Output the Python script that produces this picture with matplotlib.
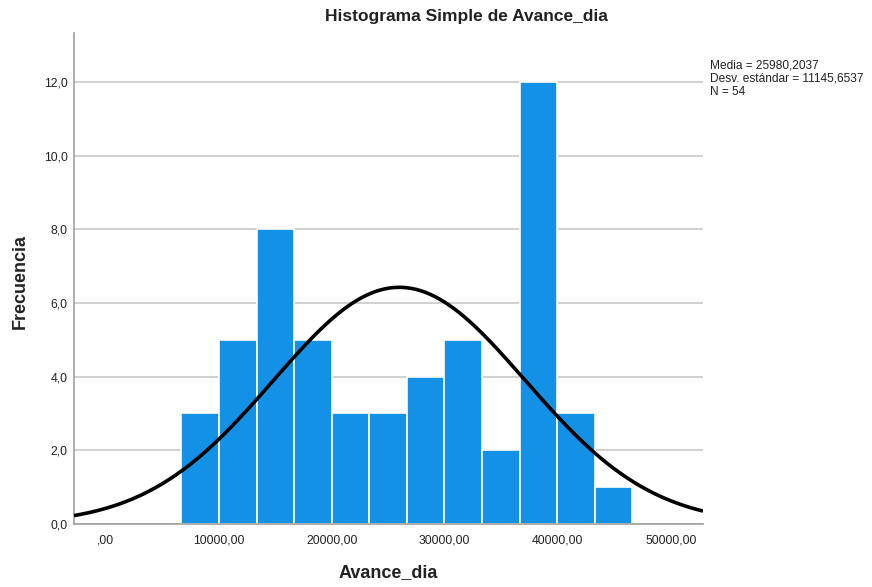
import numpy as np
import matplotlib
matplotlib.use("Agg")
import matplotlib.pyplot as plt

plt.rcParams['font.family'] = ['Liberation Sans', 'DejaVu Sans']

# Data
bin_start = 6702.0
bin_width = 3324.5
frequencies = [3, 5, 8, 5, 3, 3, 4, 5, 2, 12, 3, 1]
mean = 25980.2037
std = 11145.6537
n = 54
x_ticks = [0, 10000, 20000, 30000, 40000, 50000]
x_ticklabels = [",00", "10000,00", "20000,00", "30000,00", "40000,00", "50000,00"]
y_ticks = [0, 2, 4, 6, 8, 10, 12]
y_ticklabels = ["0,0", "2,0", "4,0", "6,0", "8,0", "10,0", "12,0"]
xlim = (-2810, 52855)
ylim = (0, 13.33)

fig = plt.figure(figsize=(8.72, 5.87), dpi=100)
ax = fig.add_axes([74/872, 1-524/587, (703-74)/872, (524-33)/587])

edges = bin_start + bin_width * np.arange(len(frequencies) + 1)
ax.bar(edges[:-1], frequencies, width=bin_width, align='edge',
       color='#1391E6', edgecolor='white', linewidth=1.2, zorder=2)

xs = np.linspace(xlim[0], xlim[1], 400)
ys = n * bin_width / (std * np.sqrt(2 * np.pi)) * np.exp(-0.5 * ((xs - mean) / std) ** 2)
ax.plot(xs, ys, color='black', linewidth=2.6, zorder=3, solid_capstyle='butt')

ax.set_xlim(*xlim)
ax.set_ylim(*ylim)
ax.set_xticks(x_ticks)
ax.set_xticklabels(x_ticklabels)
ax.set_yticks(y_ticks)
ax.set_yticklabels(y_ticklabels)
ax.tick_params(axis='both', length=0, labelsize=8.8, colors='#222222')
ax.tick_params(axis='y', pad=4.5)
ax.tick_params(axis='x', pad=7.5)
ax.yaxis.grid(True, color='#c8c8c8', linewidth=1.2, zorder=0)
ax.set_axisbelow(True)
for s in ['top', 'right']:
    ax.spines[s].set_visible(False)
for s in ['left', 'bottom']:
    ax.spines[s].set_color('#a0a0a0')
    ax.spines[s].set_linewidth(1.2)

fig.text(466/872, 1-17/587, "Histograma Simple de Avance_dia", ha='center', va='center',
         fontsize=12.5, fontweight='bold', color='#222222')
fig.text(20/872, 1-282/587, "Frecuencia", ha='center', va='center', rotation=90,
         fontsize=13, fontweight='bold', color='#222222')
fig.text(388/872, 1-573/587, "Avance_dia", ha='center', va='center',
         fontsize=13, fontweight='bold', color='#222222')
fig.text(710/872, 1-60/587,
         "Media = 25980,2037\nDesv. estándar = 11145,6537\nN = 54",
         ha='left', va='top', fontsize=8.6, linespacing=1.1, color='#222222')

fig.savefig("out.png", dpi=100)
